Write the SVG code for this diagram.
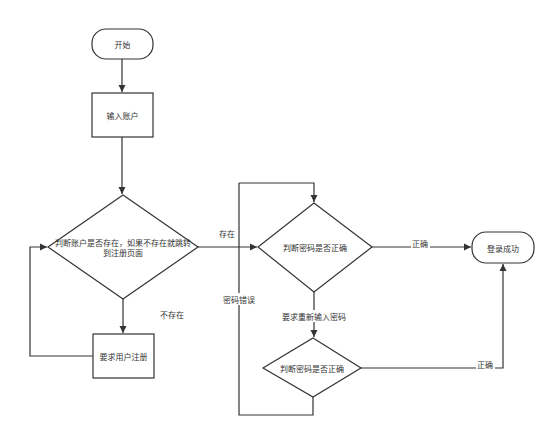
<svg xmlns="http://www.w3.org/2000/svg" width="554" height="435" viewBox="0 0 554 435">
<defs>
<marker id="arr" markerWidth="8" markerHeight="8" refX="7" refY="4" orient="auto" markerUnits="userSpaceOnUse">
<path d="M0,0.5 L7,4 L0,7.5 z" fill="#333"/>
</marker>
<style>
.n{fill:#fff;stroke:#333;stroke-width:1.2}
.e{fill:none;stroke:#333;stroke-width:1.2}
.t{font-family:"Noto Sans CJK SC","Noto Sans",sans-serif;font-size:8px;fill:#333;text-anchor:middle;dominant-baseline:central}
.bg{fill:#fff}
</style>
</defs>
<rect width="554" height="435" fill="#fff"/>
<g id="edges">
<path class="e" d="M122,59 V92" marker-end="url(#arr)"/>
<path class="e" d="M122,137 V194" marker-end="url(#arr)"/>
<path class="e" d="M123,299 V333" marker-end="url(#arr)"/>
<path class="e" d="M93,356 H30 V247 H47" marker-end="url(#arr)"/>
<path class="e" d="M198,247 H257" marker-end="url(#arr)"/>
<path class="e" d="M239,183 H314 V202" marker-end="url(#arr)"/>
<path class="e" d="M314,292 V337" marker-end="url(#arr)"/>
<path class="e" d="M372,247 H471" marker-end="url(#arr)"/>
<path class="e" d="M361,368 H503 V264" marker-end="url(#arr)"/>
<path class="e" d="M313,397 V415 H239 V183"/>
<text class="t" x="227" y="233">存在</text>
<text class="t" x="172" y="314">不存在</text>
<rect class="bg" x="223" y="293" width="32" height="12"/>
<text class="t" x="239" y="299">密码错误</text>
<rect class="bg" x="282" y="310" width="64" height="12"/>
<text class="t" x="314" y="316">要求重新输入密码</text>
<rect class="bg" x="411" y="238" width="19" height="10"/>
<text class="t" x="420" y="243">正确</text>
<rect class="bg" x="476" y="359" width="19" height="10"/>
<text class="t" x="485" y="364">正确</text>
</g>
<g id="start">
<rect class="n" x="92" y="29" width="61" height="30" rx="14" ry="14"/>
<text class="t" x="122.5" y="44">开始</text>
</g>
<g id="input">
<rect class="n" x="92" y="93" width="61" height="44"/>
<text class="t" x="122.5" y="115">输入账户</text>
</g>
<g id="check-account">
<polygon class="n" points="123,195 198,247 123,299 48,247"/>
<text class="t" x="123" y="242.5">判断账户是否存在，如果不存在就跳转</text>
<text class="t" x="123" y="252.5">到注册页面</text>
</g>
<g id="register">
<rect class="n" x="93" y="334" width="61" height="44"/>
<text class="t" x="123.5" y="356">要求用户注册</text>
</g>
<g id="check-pw1">
<polygon class="n" points="314,203 372,247 314,292 258,247"/>
<text class="t" x="315" y="247">判断密码是否正确</text>
</g>
<g id="check-pw2">
<polygon class="n" points="313,338 361,368 313,397 263,368"/>
<text class="t" x="312" y="368">判断密码是否正确</text>
</g>
<g id="success">
<rect class="n" x="472" y="232" width="62" height="31" rx="14" ry="14"/>
<text class="t" x="503" y="248">登录成功</text>
</g>
</svg>
